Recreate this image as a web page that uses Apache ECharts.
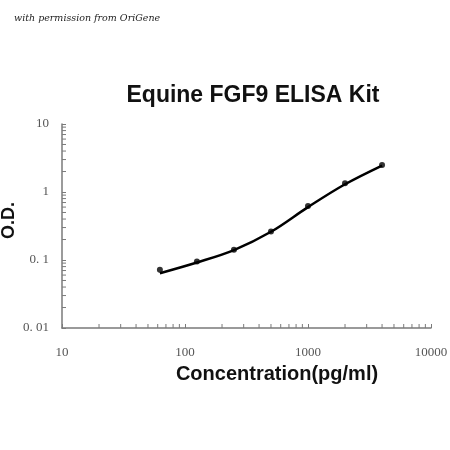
<!DOCTYPE html>
<html><head><meta charset="utf-8">
<script src="https://cdn.jsdelivr.net/npm/echarts@6/dist/echarts.min.js"></script>
<style>html,body{margin:0;padding:0;background:#fff}#c{width:450px;height:450px}</style>
</head><body><div id="c"></div>
<script>
const concentrations = [62.5, 125, 250, 500, 1000, 2000, 4000];
const odValues = [0.072, 0.095, 0.142, 0.262, 0.62, 1.35, 2.5];
const fitValues = [0.064, 0.092, 0.14, 0.26, 0.6, 1.3, 2.45];
const xTickLabels = ['10', '100', '1000', '10000'];
const yTickLabels = ['0. 01', '0. 1', '1', '10'];
const xMinorTicks = [20, 30, 40, 50, 60, 70, 80, 90, 200, 300, 400, 500, 600, 700, 800, 900, 2000, 3000, 4000, 5000, 6000, 7000, 8000, 9000];
const yMinorTicks = [0.02, 0.03, 0.04, 0.05, 0.06, 0.07, 0.08, 0.09, 0.2, 0.3, 0.4, 0.5, 0.6, 0.7, 0.8, 0.9, 2, 3, 4, 5, 6, 7, 8, 9];

const chart = echarts.init(document.getElementById('c'));
const axisColor = '#7a7a7a';
const labelFont = '"Liberation Serif", "DejaVu Serif", serif';
function lbl(arr, v, base) {
  const i = Math.round(Math.log10(v)) - base;
  return arr[i] !== undefined ? arr[i] : '';
}
const minorData = xMinorTicks.map(v => [v, 0.01, 0]).concat(yMinorTicks.map(v => [10, v, 1]));

chart.setOption({
  animation: false,
  backgroundColor: '#fff',
  title: [
    { text: 'Equine FGF9 ELISA Kit', left: 248, top: 79, textAlign: 'center',
      textStyle: { fontFamily: 'Liberation Sans, Arial, sans-serif', fontWeight: 'bold', fontSize: 23, color: '#111' } },
    { text: 'with permission from OriGene', left: 9, top: 9,
      textStyle: { fontFamily: '"DejaVu Serif", serif', fontStyle: 'italic', fontWeight: 'normal', fontSize: 9.5, color: '#222' } },
    { text: 'Concentration(pg/ml)', left: 272, top: 359, textAlign: 'center',
      textStyle: { fontFamily: 'Liberation Sans, Arial, sans-serif', fontWeight: 'bold', fontSize: 20, color: '#111' } }
  ],
  graphic: [
    { type: 'text', x: 9, y: 220.5, rotation: Math.PI / 2,
      style: { text: 'O.D.', fontFamily: 'Liberation Sans, Arial, sans-serif', fontWeight: 'bold', fontSize: 18,
        fill: '#111', align: 'center', verticalAlign: 'middle' } }
  ],
  grid: { left: 62, right: 19, top: 124, bottom: 122, containLabel: false, outerBoundsMode: 'none' },
  xAxis: {
    type: 'log', logBase: 10, min: 10, max: 10000,
    axisLine: { show: true, lineStyle: { color: axisColor, width: 1.5 } },
    axisTick: { show: true, inside: true, length: 4, lineStyle: { color: axisColor } },
    splitLine: { show: false },
    axisLabel: { margin: 18, color: '#555', fontFamily: labelFont, fontSize: 13,
      formatter: v => lbl(xTickLabels, v, 1) }
  },
  yAxis: {
    type: 'log', logBase: 10, min: 0.01, max: 10,
    axisLine: { show: true, lineStyle: { color: axisColor, width: 1.5 } },
    axisTick: { show: true, inside: true, length: 4, lineStyle: { color: axisColor } },
    splitLine: { show: false },
    axisLabel: { margin: 13, color: '#555', fontFamily: labelFont, fontSize: 13,
      formatter: v => lbl(yTickLabels, v, -2) }
  },
  series: [
    {
      type: 'custom', silent: true, clip: false, data: minorData,
      renderItem: function (params, api) {
        const p = api.coord([api.value(0), api.value(1)]);
        const dir = api.value(2);
        const shape = dir === 0
          ? { x1: p[0], y1: p[1], x2: p[0], y2: p[1] - 4 }
          : { x1: p[0], y1: p[1], x2: p[0] + 4, y2: p[1] };
        return { type: 'line', shape: shape, style: { stroke: axisColor, lineWidth: 1 } };
      }
    },
    {
      type: 'line', data: concentrations.map((c, i) => [c, fitValues[i]]),
      smooth: 0.35, showSymbol: false, lineStyle: { color: '#000', width: 2.5 }, z: 3
    },
    {
      type: 'scatter', data: concentrations.map((c, i) => [c, odValues[i]]),
      symbolSize: 6, itemStyle: { color: '#000' }, z: 4
    }
  ]
});
</script>
</body></html>
